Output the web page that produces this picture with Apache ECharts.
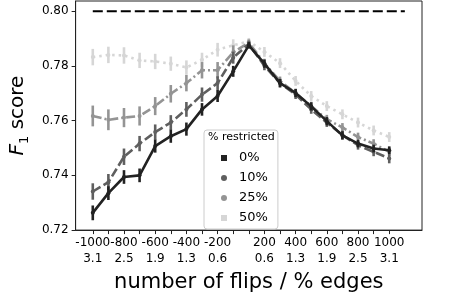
<!DOCTYPE html>
<html>
<head>
<meta charset="utf-8">
<script src="https://cdn.jsdelivr.net/npm/echarts@6/dist/echarts.min.js"></script>
<style>
html,body{margin:0;padding:0;background:#fff;}
#chart{width:456px;height:298px;}
</style>
</head>
<body>
<div id="chart"></div>
<script>
// x positions (index) correspond to these numbers of flips
var flips = [-1000,-900,-800,-700,-600,-500,-400,-300,-200,-100,0,200,300,400,500,600,700,800,900,1000];
// labelled ticks
var tickFlips = [-1000,-800,-600,-400,-200,200,400,600,800,1000];
var tickPct = ['3.1','2.5','1.9','1.3','0.6','0.6','1.3','1.9','2.5','3.1'];
var seriesNames = ['0%','10%','25%','50%'];
var f1_0  = [0.7263,0.7335,0.7394,0.7400,0.7507,0.7543,0.7569,0.7641,0.7690,0.7780,0.7875,0.7808,0.7737,0.7701,0.7652,0.7598,0.7546,0.7516,0.7498,0.7492];
var f1_10 = [0.7341,0.7375,0.7468,0.7516,0.7558,0.7593,0.7641,0.7695,0.7737,0.7830,0.7880,0.7800,0.7737,0.7695,0.7641,0.7593,0.7547,0.7510,0.7486,0.7462];
var f1_25 = [0.7617,0.7603,0.7611,0.7617,0.7653,0.7698,0.7737,0.7784,0.7784,0.7850,0.7885,0.7810,0.7745,0.7700,0.7653,0.7605,0.7575,0.7540,0.7516,0.7486];
var f1_50 = [0.7832,0.7840,0.7838,0.7820,0.7816,0.7808,0.7794,0.7822,0.7859,0.7875,0.7890,0.7851,0.7810,0.7745,0.7690,0.7653,0.7623,0.7593,0.7564,0.7540];
var err_0  = [0.0027,0.0025,0.0025,0.0025,0.0024,0.0024,0.0024,0.0023,0.0022,0.0020,0.0012,0.0015,0.0015,0.0015,0.0015,0.0015,0.0015,0.0014,0.0014,0.0014];
var err_10 = [0.0030,0.0030,0.0030,0.0028,0.0028,0.0027,0.0027,0.0026,0.0025,0.0022,0.0012,0.0016,0.0016,0.0016,0.0016,0.0016,0.0016,0.0016,0.0016,0.0018];
var err_25 = [0.0038,0.0038,0.0035,0.0035,0.0033,0.0032,0.0030,0.0030,0.0030,0.0025,0.0012,0.0016,0.0016,0.0016,0.0016,0.0016,0.0016,0.0016,0.0016,0.0016];
var err_50 = [0.0030,0.0030,0.0030,0.0028,0.0028,0.0026,0.0026,0.0026,0.0025,0.0022,0.0012,0.0018,0.0018,0.0018,0.0018,0.0018,0.0018,0.0018,0.0018,0.0018];
var refValue = 0.80;
var refSpan = [0, 20];

var values = [f1_0, f1_10, f1_25, f1_50];
var errs = [err_0, err_10, err_25, err_50];
var colors = ['#222222', '#5f5f5f', '#949494', '#d6d6d6'];
var dashes = ['solid', [9, 3.5], [9, 3, 2, 3], [2.5, 4]];
var icons = ['rect', 'circle', 'circle', 'rect'];

var tickIdx = flips.map(function (f, i) { return i; });
var labelIdx = tickFlips.map(function (f) { return flips.indexOf(f); });

var series = [];
for (var s = 3; s >= 0; s--) {
  (function (s) {
    var pts = values[s].map(function (v, i) { return [i, v]; });
    series.push({
      type: 'custom',
      name: seriesNames[s] + ' err',
      silent: true,
      z: 2 + (3 - s) * 2,
      data: values[s].map(function (v, i) { return [i, v - errs[s][i], v + errs[s][i]]; }),
      renderItem: function (params, api) {
        var lo = api.coord([api.value(0), api.value(1)]);
        var hi = api.coord([api.value(0), api.value(2)]);
        return { type: 'line', shape: { x1: lo[0], y1: lo[1], x2: hi[0], y2: hi[1] },
          style: { stroke: colors[s], lineWidth: 2.6 } };
      }
    });
    series.push({
      type: 'line',
      name: seriesNames[s],
      data: pts,
      z: 3 + (3 - s) * 2,
      symbol: 'circle',
      symbolSize: 4,
      showSymbol: true,
      itemStyle: { color: colors[s] },
      lineStyle: { color: colors[s], width: 2.6, type: dashes[s] },
      animation: false
    });
  })(s);
}
series.push({
  type: 'line',
  name: 'ref',
  data: [[refSpan[0], refValue], [refSpan[1], refValue]],
  symbol: 'none',
  lineStyle: { color: '#000', width: 2, type: [10, 4] },
  z: 20
});

var chart = echarts.init(document.getElementById('chart'), null, { renderer: 'canvas' });
chart.setOption({
  animation: false,
  backgroundColor: '#fff',
  textStyle: { fontFamily: 'DejaVu Sans' },
  grid: { left: 60, right: 34, top: 1, bottom: 62.5, show: true, borderColor: '#222', borderWidth: 1 },
  xAxis: {
    type: 'value',
    min: -1.1, max: 21.1,
    name: 'number of flips / % edges',
    nameLocation: 'middle',
    nameGap: 36,
    nameTextStyle: { fontSize: 21, color: '#000', fontFamily: 'DejaVu Sans' },
    splitLine: { show: false },
    axisLine: { onZero: false, lineStyle: { color: '#222', width: 1 } },
    axisTick: { length: 4, inside: false, lineStyle: { color: '#222' }, customValues: tickIdx },
    axisLabel: {
      customValues: labelIdx,
      margin: 5,
      fontSize: 12, lineHeight: 16, color: '#000', fontFamily: 'DejaVu Sans',
      formatter: function (v) {
        var k = labelIdx.indexOf(Math.round(v));
        return k < 0 ? '' : tickFlips[k] + '\n' + tickPct[k];
      }
    }
  },
  yAxis: {
    type: 'value',
    min: 0.72, max: 0.8037, interval: 0.02,
    name: '{f|F}{s|1}{n| score}',
    nameLocation: 'middle',
    nameGap: 40,
    nameRotate: 90,
    nameTextStyle: {
      fontSize: 20, color: '#000', fontFamily: 'DejaVu Sans',
      rich: {
        f: { fontSize: 20, fontStyle: 'italic', fontFamily: 'DejaVu Sans', lineHeight: 26 },
        s: { fontSize: 13, fontFamily: 'DejaVu Sans', verticalAlign: 'bottom', lineHeight: 26 },
        n: { fontSize: 20, fontFamily: 'DejaVu Sans', lineHeight: 26 }
      }
    },
    splitLine: { show: false },
    axisLine: { show: true, onZero: false, lineStyle: { color: '#222', width: 1 } },
    axisTick: { show: true, length: 4, lineStyle: { color: '#222' } },
    axisLabel: {
      margin: 7, fontSize: 12, color: '#000', fontFamily: 'DejaVu Sans',
      showMaxLabel: false,
      formatter: function (v) { return v.toFixed(2); }
    }
  },
  legend: {
    orient: 'vertical',
    left: 204, top: 130,
    padding: [21, 10, 4, 17],
    itemGap: 6,
    itemWidth: 6, itemHeight: 6,
    backgroundColor: 'rgba(255,255,255,0.85)',
    borderColor: '#cccccc', borderWidth: 1, borderRadius: 3,
    textStyle: { fontSize: 13, color: '#000', fontFamily: 'DejaVu Sans', padding: [0, 0, 0, 7], lineHeight: 14 },
    data: seriesNames.map(function (n, i) { return { name: n, icon: icons[i] }; })
  },
  graphic: [{
    type: 'text', left: 208, top: 132, z: 100,
    style: { text: '% restricted', fontSize: 11, fill: '#000', fontFamily: 'DejaVu Sans' }
  }],
  series: series
});
</script>
</body>
</html>
